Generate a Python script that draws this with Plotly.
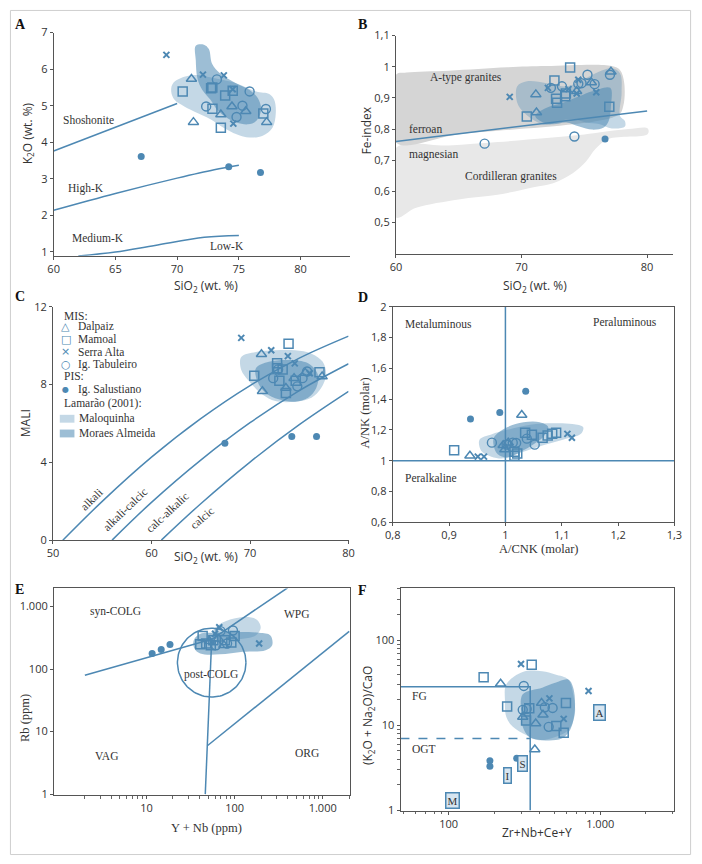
import math
import numpy as np
import plotly.graph_objects as go

BLUE = "#4d88b3"
MAL_FILL = "rgba(77,136,179,0.33)"
MOR_FILL = "rgba(77,136,179,0.55)"
GRAY_DARK = "#d5d5d5"
GRAY_LIGHT = "#e8e8e8"
SERIF = "Liberation Serif"
SANS = "Open Sans"
TXT = "#333333"

# ---------------- Panel A: K2O vs SiO2 ----------------
a_dal_x = [71.16, 73.54, 74.44, 75.56, 77.25, 71.32]
a_dal_y = [5.73, 4.76, 4.98, 4.85, 4.55, 4.55]
a_mam_x = [70.45, 72.75, 72.85, 73.89, 74.5, 72.86, 73.54, 76.98]
a_mam_y = [5.39, 5.48, 5.5, 5.28, 5.41, 4.92, 4.40, 4.79]
a_ser_x = [69.13, 72.09, 73.78, 74.5, 74.55]
a_ser_y = [6.39, 5.85, 5.83, 5.45, 4.51]
a_tab_x = [73.22, 75.87, 72.35, 75.29, 74.81, 77.19]
a_tab_y = [5.72, 5.39, 4.98, 5.0, 4.69, 4.91]
a_sal_x = [67.09, 74.18, 76.75]
a_sal_y = [3.61, 3.33, 3.17]
a_mal_x = [69.66, 70.58, 71.64, 72.43, 74.81, 76.40, 77.46, 77.86, 77.99, 77.72, 76.93, 75.87, 74.81, 73.76, 72.70, 71.64, 70.58, 69.79, 69.52]
a_mal_y = [5.61, 5.79, 5.84, 5.79, 5.61, 5.39, 5.32, 5.16, 4.80, 4.40, 4.18, 4.13, 4.22, 4.40, 4.63, 4.80, 4.98, 5.16, 5.39]
a_mor_x = [71.51, 72.17, 72.57, 72.83, 73.49, 74.81, 75.87, 76.53, 76.80, 76.40, 75.74, 74.81, 74.02, 73.23, 72.70, 72.04, 71.64, 71.51]
a_mor_y = [6.64, 6.67, 6.55, 6.15, 5.88, 5.61, 5.43, 5.21, 4.89, 4.58, 4.49, 4.54, 4.67, 4.89, 5.16, 5.43, 5.75, 6.24]
a_sho_x = [60, 70]
a_sho_y = [3.76, 5.06]
a_hk_x = [60, 65, 70, 73, 75]
a_hk_y = [2.14, 2.6, 3.02, 3.25, 3.37]
a_mk_x = [62, 65, 68.2, 72.2, 75]
a_mk_y = [0.89, 1.0, 1.18, 1.40, 1.45]

# ---------------- Panel B: Fe-index vs SiO2 ----------------
b_dal_x = [77.12, 75.56, 74.39, 71.14, 71.19]
b_dal_y = [0.984, 0.949, 0.921, 0.911, 0.853]
b_mam_x = [73.87, 72.62, 73.53, 73.48, 72.75, 72.83, 70.42, 76.99]
b_mam_y = [0.997, 0.956, 0.914, 0.905, 0.897, 0.884, 0.84, 0.871]
b_ser_x = [69.06, 72.1, 73.74, 74.52, 75.95, 74.39]
b_ser_y = [0.903, 0.932, 0.928, 0.958, 0.918, 0.914]
b_tab_x = [77.04, 72.34, 73.22, 74.52, 74.78, 75.25, 75.82, 74.21, 67.06]
b_tab_y = [0.974, 0.932, 0.937, 0.945, 0.947, 0.974, 0.944, 0.776, 0.753]
b_sal_x = [76.65]
b_sal_y = [0.768]
b_atype_x = [60.0, 60.83, 64.21, 68.88, 72.0, 77.19, 77.84, 78.18, 78.1, 77.7, 65.0, 60.0]
b_atype_y = [0.974, 0.981, 0.987, 0.998, 1.002, 1.002, 0.989, 0.947, 0.874, 0.845, 0.783, 0.757]
b_cord_x = [60.0, 64.21, 68.1, 72.0, 74.6, 76.16, 78.49, 80.05, 80.05, 76.94, 75.9, 75.12, 74.08, 72.52, 70.96, 68.1, 64.99, 61.61, 60.0]
b_cord_y = [0.739, 0.747, 0.758, 0.771, 0.781, 0.789, 0.8, 0.802, 0.784, 0.768, 0.737, 0.695, 0.658, 0.626, 0.613, 0.589, 0.574, 0.547, 0.516]
b_mal_x = [69.66, 70.44, 72.0, 73.56, 75.12, 76.16, 77.19, 77.84, 77.97, 77.84, 78.23, 78.23, 77.19, 76.16, 75.12, 74.08, 73.04, 72.0, 71.09, 70.18, 69.66]
b_mal_y = [0.937, 0.953, 0.947, 0.937, 0.963, 0.984, 0.995, 0.979, 0.916, 0.842, 0.826, 0.808, 0.802, 0.816, 0.821, 0.832, 0.826, 0.813, 0.826, 0.853, 0.884]
b_mor_x = [71.09, 72.0, 73.3, 74.6, 75.64, 77.06, 77.12, 76.94, 76.55, 75.64, 74.6, 73.56, 72.52, 71.74]
b_mor_y = [0.842, 0.868, 0.884, 0.905, 0.921, 0.932, 0.874, 0.826, 0.805, 0.798, 0.808, 0.821, 0.815, 0.821]
b_fer_x = [60, 80]
b_fer_y = [0.76, 0.858]

# ---------------- Panel C: MALI vs SiO2 ----------------
c_dal_x = [71.16, 74.47, 77.32, 73.64, 71.26, 75.6]
c_dal_y = [9.56, 8.33, 8.41, 7.82, 7.66, 8.6]
c_mam_x = [73.91, 72.75, 72.75, 73.31, 70.43, 72.98, 74.64, 77.05, 73.64]
c_mam_y = [10.1, 9.09, 8.84, 8.78, 8.45, 8.2, 8.2, 8.63, 7.57]
c_ser_x = [69.11, 72.15, 73.84, 74.54, 76.06]
c_ser_y = [10.4, 9.76, 9.46, 9.09, 8.58]
c_tab_x = [72.85, 72.35, 75.33, 75.79, 74.8]
c_tab_y = [8.78, 8.33, 8.33, 8.67, 7.91]
c_sal_x = [67.45, 74.24, 76.75]
c_sal_y = [4.99, 5.33, 5.33]
c_mal_x = [69.11, 70.6, 72.58, 74.57, 76.23, 77.38, 77.72, 77.22, 76.23, 74.57, 72.58, 71.26, 69.93, 69.11]
c_mal_y = [9.42, 9.68, 9.76, 9.76, 9.59, 9.17, 8.5, 7.82, 7.32, 7.12, 7.15, 7.49, 8.16, 8.75]
c_mor_x = [70.6, 71.92, 73.91, 75.89, 76.89, 76.72, 75.89, 74.57, 72.91, 71.59, 70.76]
c_mor_y = [8.84, 9.17, 9.26, 9.09, 8.5, 7.82, 7.32, 7.12, 7.24, 7.57, 8.16]
c_alk_x = [51, 55, 60, 65, 70, 75, 80]
c_alk_y = [0.0, 2.0, 4.27, 6.25, 7.95, 9.36, 10.49]
c_ac_x = [56, 60, 65, 70, 75, 80]
c_ac_y = [0.01, 1.95, 4.12, 6.04, 7.69, 9.07]
c_ca_x = [61, 65, 70, 75, 80]
c_ca_y = [0.01, 1.88, 4.02, 5.94, 7.65]

# ---------------- Panel D: A/NK vs A/CNK ----------------
d_dal_x = [1.029, 0.937, 0.996, 0.999, 1.005]
d_dal_y = [1.296, 1.032, 1.1, 1.072, 1.117]
d_mam_x = [0.909, 1.016, 1.016, 1.021, 1.035, 1.047, 1.066, 1.075, 1.083, 1.09]
d_mam_y = [1.068, 1.057, 1.032, 1.047, 1.181, 1.168, 1.149, 1.164, 1.174, 1.181]
d_ser_x = [0.951, 0.962, 1.11, 1.118]
d_ser_y = [1.026, 1.026, 1.174, 1.149]
d_tab_x = [0.976, 1.002, 1.013, 1.019, 1.038, 1.052]
d_tab_y = [1.117, 1.104, 1.117, 1.115, 1.143, 1.104]
d_sal_x = [0.938, 0.99, 1.036]
d_sal_y = [1.27, 1.313, 1.451]
d_mal_x = [0.954, 0.975, 1.003, 1.044, 1.084, 1.119, 1.138, 1.134, 1.102, 1.067, 1.032, 0.998, 0.975, 0.957]
d_mal_y = [1.136, 1.17, 1.2, 1.234, 1.243, 1.238, 1.217, 1.174, 1.136, 1.1, 1.057, 1.015, 1.026, 1.064]
d_mor_x = [0.98, 1.003, 1.032, 1.061, 1.076, 1.067, 1.05, 1.027, 1.003, 0.986, 0.979]
d_mor_y = [1.153, 1.217, 1.249, 1.249, 1.217, 1.153, 1.106, 1.057, 1.021, 1.043, 1.1]

# ---------------- Panel E: Rb vs Y+Nb ----------------
e_dal_x = [51.9, 65.3, 75.5]
e_dal_y = [279, 307, 241]
e_mam_x = [43.4, 40.8, 47.6, 57.4, 53.7, 77.4, 91.8, 100]
e_mam_y = [338, 250, 256, 289, 241, 289, 266, 338]
e_ser_x = [67, 60, 190]
e_ser_y = [468, 367, 256]
e_tab_x = [69.3, 61.5, 82.2, 95.8]
e_tab_y = [405, 241, 256, 415]
e_sal_x = [11.6, 14.7, 18.5]
e_sal_y = [178, 206, 247]
e_mal_x = [57.4, 74.1, 113.7, 174, 198, 174, 124, 80.7, 60]
e_mal_y = [415, 561, 671, 632, 468, 346, 307, 289, 307]
e_mor_x = [34.4, 40.8, 57.4, 95.7, 190, 255, 267, 225, 124, 68, 40.8, 35]
e_mor_y = [289, 367, 381, 391, 381, 346, 241, 201, 189, 172, 178, 214]
e_l1_x, e_l1_y = [2, 55], [80, 300]
e_l2_x, e_l2_y = [55, 400], [300, 2000]
e_l3_x, e_l3_y = [55, 49.5, 46.5], [300, 6, 1]
e_l4_x, e_l4_y = [49.5, 2000], [6, 400]
e_circ_center = (55.0, 127.0)        # post-COLG field centre (ppm)
e_circ_radius_dec = (0.389, 0.55)     # radius in decades (x, y)

# ---------------- Panel F: (K2O+Na2O)/CaO vs Zr+Nb+Ce+Y ----------------
f_dal_x = [220, 308, 375, 410, 419, 370]
f_dal_y = [30.8, 12.5, 10.5, 18.3, 13.3, 5.2]
f_mam_x = [353, 170, 243, 340, 324, 594, 513, 574]
f_mam_y = [51.5, 36.7, 16.6, 15.9, 11.4, 18.3, 9.8, 8.2]
f_ser_x = [300, 462, 574, 837]
f_ser_y = [52.4, 20.7, 11.9, 25.3]
f_tab_x = [313, 308, 327, 431, 485, 457]
f_tab_y = [29, 15.2, 15.6, 16.3, 16, 9.6]
f_sal_x = [187, 187, 281]
f_sal_y = [3.84, 3.3, 4.12]
f_mal_x = [240, 308, 414, 505, 615, 663, 680, 615, 505, 394, 324, 265, 240, 235]
f_mal_y = [30.3, 42.4, 43.1, 39.5, 34.5, 23.2, 13.6, 8.75, 7.3, 6.7, 7.7, 9.6, 12.5, 19.4]
f_mor_x = [308, 414, 505, 615, 663, 680, 631, 557, 414, 340, 308, 300]
f_mor_y = [23.2, 27.7, 31.6, 34.5, 27.7, 14.9, 8.75, 7.0, 6.7, 7.3, 9.6, 14.9]
f_fg_x, f_fg_y = [48, 345, 345], [28.4, 28.4, 1]
f_ogt_x, f_ogt_y = [48, 345], [7.0, 7.0]
f_types = ["M", "I", "S", "A"]
f_types_x = [106.6, 244, 305, 990]
f_types_y = [1.30, 2.6, 3.55, 14.3]

# ---------------- build ----------------
fig = go.Figure()
AX = ["", "2", "3", "4", "5", "6"]


def xy(i):
    return dict(xaxis="x" + AX[i], yaxis="y" + AX[i])


def region(i, xs, ys, fill, smooth=True):
    fig.add_trace(go.Scatter(
        x=xs + xs[:1], y=ys + ys[:1], mode="lines", fill="toself", fillcolor=fill,
        line=dict(width=0, color="rgba(0,0,0,0)", shape="spline" if smooth else "linear", smoothing=1),
        showlegend=False, hoverinfo="skip", **xy(i)))


def line(i, xs, ys, dash="solid", width=1.5, shape="linear"):
    fig.add_trace(go.Scatter(
        x=xs, y=ys, mode="lines", line=dict(color=BLUE, width=width, dash=dash, shape=shape),
        showlegend=False, hoverinfo="skip", **xy(i)))


STY = {
    "dal": dict(symbol="triangle-up-open", size=9, lw=1.5),
    "mam": dict(symbol="square-open", size=9, lw=1.5),
    "ser": dict(symbol="x-thin-open", size=6, lw=2),
    "tab": dict(symbol="circle-open", size=9, lw=1.4),
    "sal": dict(symbol="circle", size=7, lw=0),
}


def pts(i, xs, ys, key):
    s = STY[key]
    fig.add_trace(go.Scatter(
        x=xs, y=ys, mode="markers",
        marker=dict(symbol=s["symbol"], size=s["size"], color=BLUE, line=dict(color=BLUE, width=s["lw"])),
        showlegend=False, hoverinfo="skip", **xy(i)))


def all_pts(i, groups):
    for key, xs, ys in groups:
        pts(i, xs, ys, key)


# Panel A
region(0, a_mal_x, a_mal_y, MAL_FILL)
region(0, a_mor_x, a_mor_y, MOR_FILL)
line(0, a_sho_x, a_sho_y)
line(0, a_hk_x, a_hk_y, shape="spline")
line(0, a_mk_x, a_mk_y, shape="spline")
all_pts(0, [("mam", a_mam_x, a_mam_y), ("dal", a_dal_x, a_dal_y), ("ser", a_ser_x, a_ser_y),
            ("tab", a_tab_x, a_tab_y), ("sal", a_sal_x, a_sal_y)])

# Panel B
region(1, b_cord_x, b_cord_y, GRAY_LIGHT)
region(1, b_atype_x, b_atype_y, GRAY_DARK)
region(1, b_mal_x, b_mal_y, MAL_FILL)
region(1, b_mor_x, b_mor_y, MOR_FILL)
line(1, b_fer_x, b_fer_y)
all_pts(1, [("mam", b_mam_x, b_mam_y), ("dal", b_dal_x, b_dal_y), ("ser", b_ser_x, b_ser_y),
            ("tab", b_tab_x, b_tab_y), ("sal", b_sal_x, b_sal_y)])

# Panel C
region(2, c_mal_x, c_mal_y, MAL_FILL)
region(2, c_mor_x, c_mor_y, MOR_FILL)
line(2, c_alk_x, c_alk_y, shape="spline")
line(2, c_ac_x, c_ac_y, shape="spline")
line(2, c_ca_x, c_ca_y, shape="spline")
all_pts(2, [("mam", c_mam_x, c_mam_y), ("dal", c_dal_x, c_dal_y), ("ser", c_ser_x, c_ser_y),
            ("tab", c_tab_x, c_tab_y), ("sal", c_sal_x, c_sal_y)])

# Panel D
region(3, d_mal_x, d_mal_y, MAL_FILL)
region(3, d_mor_x, d_mor_y, MOR_FILL)
line(3, [1, 1], [0.6, 2])
line(3, [0.8, 1.3], [1, 1])
all_pts(3, [("mam", d_mam_x, d_mam_y), ("dal", d_dal_x, d_dal_y), ("ser", d_ser_x, d_ser_y),
            ("tab", d_tab_x, d_tab_y), ("sal", d_sal_x, d_sal_y)])

# Panel E
region(4, e_mal_x, e_mal_y, MAL_FILL)
region(4, e_mor_x, e_mor_y, MOR_FILL)
for lx, ly in [(e_l1_x, e_l1_y), (e_l2_x, e_l2_y), (e_l3_x, e_l3_y), (e_l4_x, e_l4_y)]:
    line(4, lx, ly)
t = np.linspace(0, 2 * np.pi, 120)
cx, cy = math.log10(e_circ_center[0]), math.log10(e_circ_center[1])
line(4, list(10 ** (cx + e_circ_radius_dec[0] * np.cos(t))), list(10 ** (cy + e_circ_radius_dec[1] * np.sin(t))))
all_pts(4, [("mam", e_mam_x, e_mam_y), ("dal", e_dal_x, e_dal_y), ("ser", e_ser_x, e_ser_y),
            ("tab", e_tab_x, e_tab_y), ("sal", e_sal_x, e_sal_y)])

# Panel F
region(5, f_mal_x, f_mal_y, MAL_FILL)
region(5, f_mor_x, f_mor_y, MOR_FILL)
line(5, f_fg_x, f_fg_y)
line(5, f_ogt_x, f_ogt_y, dash="dash")
all_pts(5, [("mam", f_mam_x, f_mam_y), ("dal", f_dal_x, f_dal_y), ("ser", f_ser_x, f_ser_y),
            ("tab", f_tab_x, f_tab_y), ("sal", f_sal_x, f_sal_y)])

# ---------------- axes ----------------
W, H = 702, 864


def px2x(p):
    return p / W


def px2y(p):
    return 1 - p / H


def axis(domain_px, rng, anchor, tickvals, ticktext=None, typ="linear", mirror=False, minor=None, vertical=False):
    if vertical:
        dom = [px2y(domain_px[1]), px2y(domain_px[0])]
    else:
        dom = [px2x(domain_px[0]), px2x(domain_px[1])]
    d = dict(domain=dom, range=rng, anchor=anchor, type=typ, tickmode="array", tickvals=tickvals,
             showgrid=False, zeroline=False, showline=True, linecolor="#555", linewidth=1,
             ticks="outside", ticklen=3, tickcolor="#555", mirror=mirror,
             tickfont=dict(family=SANS, size=11, color=TXT))
    if ticktext is not None:
        d["ticktext"] = ticktext
    if minor is not None:
        d["minor"] = dict(tickmode="array", tickvals=minor, ticks="outside", ticklen=2.5, tickcolor="#666")
    return d


def comma(vals):
    return [("%g" % v).replace(".", ",") for v in vals]


b_yt = [0.5, 0.6, 0.7, 0.8, 0.9, 1.0, 1.1]
d_xt = [0.8, 0.9, 1.0, 1.1, 1.2, 1.3]
d_yt = [0.6, 0.8, 1.0, 1.2, 1.4, 1.6, 1.8, 2.0]

e_minor_x = [m * 10 ** k for k in range(0, 4) for m in range(2, 10)]
f_minor_x = [m * 10 ** k for k in range(1, 4) for m in range(2, 10)]
f_minor_y = [m * 10 ** k for k in range(0, 3) for m in range(2, 10)]

layout_axes = dict(
    xaxis=axis((46.7, 350), [60, 84], "y", [60, 65, 70, 75, 80]),
    yaxis=axis((25, 252), [0.9, 7.0], "x", [1, 2, 3, 4, 5, 6, 7], vertical=True),
    xaxis2=axis((397, 681), [60, 82.1], "y2", [60, 70, 80]),
    yaxis2=axis((28, 250), [0.4, 1.1], "x2", b_yt, comma(b_yt), vertical=True),
    xaxis3=axis((46, 348.5), [50, 80], "y3", [50, 60, 70, 80]),
    yaxis3=axis((304, 541.7), [0, 12], "x3", [0, 4, 8, 12], vertical=True),
    xaxis4=axis((393.7, 682), [0.8, 1.3], "y4", d_xt, comma(d_xt), mirror=True),
    yaxis4=axis((304, 523.3), [0.6, 2.0], "x4", d_yt, comma(d_yt), mirror=True, vertical=True),
    xaxis5=axis((47, 350), [-0.05, 3.31], "y5", [10, 100, 1000], ["10", "100", "1.000"], typ="log",
                mirror=True, minor=e_minor_x),
    yaxis5=axis((590.7, 801), [-0.015, 3.29], "x5", [1, 10, 100, 1000], ["1", "10", "100", "1.000"],
                typ="log", mirror=True, vertical=True),
    xaxis6=axis((401.7, 681.7), [1.682, 3.488], "y6", [100, 1000], ["100", "1.000"], typ="log",
                mirror=True, minor=f_minor_x),
    yaxis6=axis((590, 816.7), [0, 2.615], "x6", [1, 10, 100], ["1", "10", "100"], typ="log",
                mirror=True, minor=f_minor_y, vertical=True),
)

# ---------------- annotations ----------------
ann = []


def note(i, x, y, text, size=11.5, family=SERIF, angle=0, xanchor="center", logx=False, logy=False, **kw):
    ann.append(dict(xref="x" + AX[i], yref="y" + AX[i],
                    x=math.log10(x) if logx else x, y=math.log10(y) if logy else y,
                    text=text, showarrow=False, textangle=angle, xanchor=xanchor, yanchor="middle",
                    font=dict(family=family, size=size, color=kw.pop("color", TXT)), **kw))


def paper(xp, yp, text, size=12, family=SANS, angle=0, xanchor="center", bold=False, color=TXT):
    ann.append(dict(xref="paper", yref="paper", x=px2x(xp), y=px2y(yp), text=("<b>%s</b>" % text) if bold else text,
                    showarrow=False, textangle=angle, xanchor=xanchor, yanchor="middle",
                    font=dict(family=family, size=size, color=color)))


# panel texts
note(0, 62.8, 4.62, "Shoshonite")
note(0, 62.64, 2.73, "High-K")
note(0, 63.57, 1.37, "Medium-K")
note(0, 74.07, 1.16, "Low-K")

note(1, 65.56, 0.965, "A-type granites")
note(1, 60.88, 0.8, "ferroan", xanchor="left")
note(1, 60.88, 0.719, "magnesian", xanchor="left")
note(1, 69.14, 0.647, "Cordilleran granites")

note(2, 53.97, 2.1, "alkali", angle=-45)
note(2, 57.35, 1.6, "alkali-calcic", angle=-44)
note(2, 61.66, 1.43, "calc-alkalic", angle=-43)
note(2, 65.13, 1.12, "calcic", angle=-41)

note(3, 0.881, 1.887, "Metaluminous")
note(3, 1.2116, 1.898, "Peraluminous")
note(3, 0.868, 0.887, "Peralkaline")

note(4, 4.45, 824, "syn-COLG", logx=True, logy=True)
note(4, 506, 758, "WPG", logx=True, logy=True)
note(4, 53.7, 81.5, "post-COLG", logx=True, logy=True)
note(4, 3.5, 4.1, "VAG", logx=True, logy=True)
note(4, 663, 4.6, "ORG", logx=True, logy=True)

note(5, 55.2, 22.2, "FG", xanchor="left", logx=True, logy=True)
note(5, 55.2, 5.3, "OGT", xanchor="left", logx=True, logy=True)
for lab, tx, ty in zip(f_types, f_types_x, f_types_y):
    note(5, tx, ty, lab, size=11, logx=True, logy=True, bordercolor=BLUE, borderwidth=1.5,
         borderpad=1, bgcolor="#d7e5f0")

# axis titles
paper(203, 283, "SiO<sub>2</sub> (wt. %)")
paper(20, 128, "K<sub>2</sub>O (wt. %)", angle=-90)
paper(539, 283, "SiO<sub>2</sub> (wt. %)")
paper(367, 125, "Fe-index", angle=-90)
paper(203, 559, "SiO<sub>2</sub> (wt. %)")
paper(18, 423, "MALI", angle=-90)
paper(543, 551, "A/CNK (molar)", family=SERIF, size=12.5)
paper(365, 412, "A/NK (molar)", family=SERIF, size=12.5, angle=-90)
paper(203, 834, "Y + Nb (ppm)", family=SERIF, size=12.5)
paper(18, 723, "Rb (ppm)", family=SERIF, size=12.5, angle=-90)
paper(541, 839, "Zr+Nb+Ce+Y")
paper(368, 720, "(K<sub>2</sub>O + Na<sub>2</sub>O)/CaO", angle=-90)

# panel letters
for lab, xp, yp in [("A", 13, 17), ("B", 363, 17), ("C", 12, 294), ("D", 363, 295), ("E", 12, 592), ("F", 363, 593)]:
    paper(xp, yp, lab, size=14, family=SERIF, bold=True, color="#111")

# legend (panel C)
leg_rows = [
    (313, None, "MIS:"),
    (324, "△", "Dalpaiz"),
    (337, "□", "Mamoal"),
    (350, "×", "Serra Alta"),
    (363, "○", "Ig. Tabuleiro"),
    (375, None, "PIS:"),
    (388, "●", "Ig. Salustiano"),
    (402, None, "Lamarão (2001):"),
    (418, "MAL", "Maloquinha"),
    (433, "MOR", "Moraes Almeida"),
]
shapes = []
for yp, sym, lab in leg_rows:
    if sym is None:
        paper(55, yp, lab, size=11.5, family=SERIF, xanchor="left")
    elif sym in ("MAL", "MOR"):
        shapes.append(dict(type="rect", xref="paper", yref="paper", x0=px2x(53), x1=px2x(68),
                           y0=px2y(yp + 4), y1=px2y(yp - 4), line=dict(width=0),
                           fillcolor=MAL_FILL if sym == "MAL" else MOR_FILL))
        paper(71, yp, lab, size=11.5, family=SERIF, xanchor="left")
    else:
        paper(59, yp, sym, size=11 if sym != "●" else 8, family="DejaVu Sans", color=BLUE)
        paper(70, yp, lab, size=11.5, family=SERIF, xanchor="left")

# outer frame
shapes.append(dict(type="rect", xref="paper", yref="paper", x0=px2x(2.5), x1=px2x(698.5),
                   y0=px2y(861.5), y1=px2y(2.5), line=dict(color="#cfcfcf", width=1)))

fig.update_layout(
    width=W, height=H, margin=dict(l=0, r=0, t=0, b=0),
    paper_bgcolor="white", plot_bgcolor="white",
    showlegend=False, annotations=ann, shapes=shapes, separators=",.",
    **layout_axes,
)

fig.write_html("out.html")
